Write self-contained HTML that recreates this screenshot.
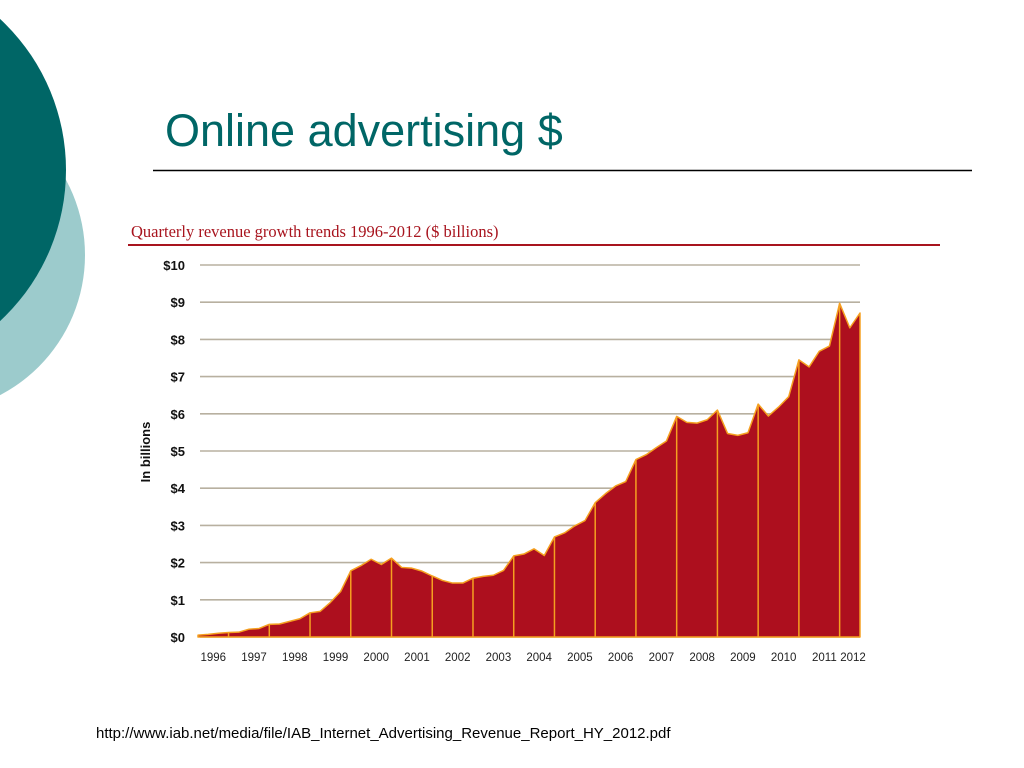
<!DOCTYPE html>
<html><head><meta charset="utf-8"><style>
body{margin:0;width:1024px;height:768px;overflow:hidden;background:#fff;font-family:"Liberation Sans",sans-serif;position:relative}
</style></head><body>
<svg width="1024" height="768" style="position:absolute;left:0;top:0">
<circle cx="-73" cy="255" r="158" fill="#9ccbcc"/>
<circle cx="-140" cy="170" r="206" fill="#006666"/>
<text x="165" y="146" font-size="45" fill="#006666" font-family="Liberation Sans, sans-serif">Online advertising $</text>
<line x1="153" y1="170.5" x2="972" y2="170.5" stroke="#000" stroke-width="1.5"/>
<text x="131" y="237" font-size="16.5" fill="#a8141e" font-family="Liberation Serif, serif">Quarterly revenue growth trends 1996-2012 ($ billions)</text>
<line x1="128" y1="245" x2="940" y2="245" stroke="#a8141e" stroke-width="2"/>
<g id="grid"></g>
<g id="area"></g>
<g id="xlabels"></g>
<text transform="translate(150,452) rotate(-90)" text-anchor="middle" font-size="13" font-weight="bold" fill="#111">In billions</text>
<text x="96" y="738" font-size="15" fill="#000">http://www.iab.net/media/file/IAB_Internet_Advertising_Revenue_Report_HY_2012.pdf</text>
</svg>
<script>
const years=[1996,1997,1998,1999,2000,2001,2002,2003,2004,2005,2006,2007,2008,2009,2010,2011,2012];
const yTicks=[0,1,2,3,4,5,6,7,8,9,10];
const revenue=[0.05,0.07,0.10,0.12,0.13,0.21,0.23,0.34,0.35,0.42,0.49,0.65,0.69,0.93,1.22,1.78,1.92,2.09,1.95,2.12,1.87,1.85,1.77,1.64,1.52,1.45,1.45,1.58,1.63,1.66,1.79,2.18,2.23,2.37,2.19,2.69,2.80,2.99,3.13,3.61,3.85,4.06,4.18,4.77,4.90,5.09,5.27,5.93,5.77,5.75,5.84,6.10,5.47,5.42,5.49,6.26,5.94,6.18,6.46,7.45,7.26,7.68,7.82,8.97,8.31,8.71];
const NS="http://www.w3.org/2000/svg";
const x0=198,x1=860,y0=637,y10=265;
const xs=i=>x0+i*(x1-x0)/(revenue.length-1);
const ys=v=>y0-(v/10)*(y0-y10);
function mk(t,a,p){const e=document.createElementNS(NS,t);for(const k in a)e.setAttribute(k,a[k]);p.appendChild(e);return e;}
const grid=document.getElementById('grid');
yTicks.forEach(v=>{
 const l=mk('line',{x1:200,x2:860,y1:ys(v),y2:ys(v),stroke:'#b8b0a0','stroke-width':1.6},grid);
 
 
 const t=mk('text',{x:185,y:ys(v)+5,'text-anchor':'end','font-size':13,'font-weight':'bold',fill:'#111'},grid);
 t.textContent='$'+v;
 
 
});
const area=document.getElementById('area');
let d='M'+xs(0)+','+y0;
revenue.forEach((v,i)=>{d+=' L'+xs(i)+','+ys(v);});
d+=' L'+xs(revenue.length-1)+','+y0+' Z';
const p=mk('path',{d:d,fill:'#ad0f1e',stroke:'#f5a020','stroke-width':1.5,'stroke-linejoin':'round'},area);


revenue.forEach((v,i)=>{
 if(i%4===3){
  const l=mk('line',{x1:xs(i),x2:xs(i),y1:ys(v),y2:y0,stroke:'#f5a020','stroke-width':1.5},area);
  
  
 }
});
const xl=document.getElementById('xlabels');
years.forEach((y,k)=>{
 const c=Math.min(xs(k*4+1.5),xs(revenue.length-1)-7);
 const t=mk('text',{x:c,y:661,'text-anchor':'middle','font-size':11.5,fill:'#222'},xl);
 t.textContent=y;
 
 
});
</script>
</body></html>
